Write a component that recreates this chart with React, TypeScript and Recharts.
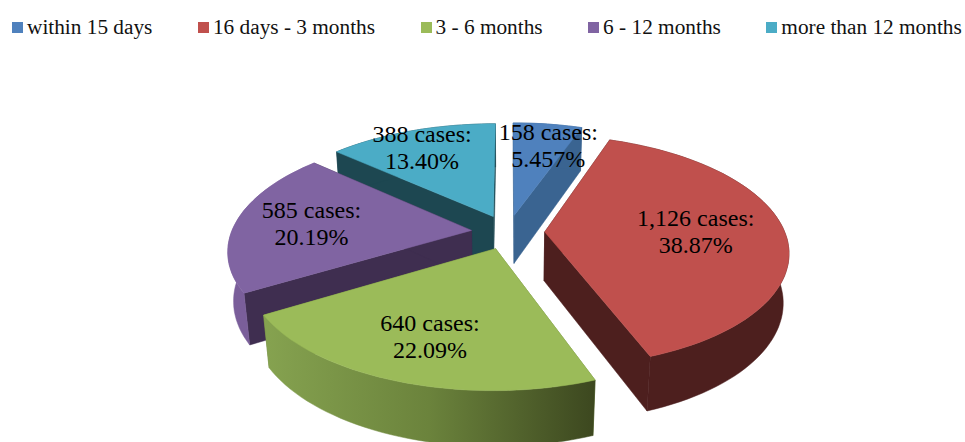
import { PieChart, Pie, Legend } from 'recharts'

const names = ['within 15 days', '16 days - 3 months', '3 - 6 months', '6 - 12 months', 'more than 12 months']
const cases = [158, 1126, 640, 585, 388]
const caseLabels = ['158 cases:', '1,126 cases:', '640 cases:', '585 cases:', '388 cases:']
const percentLabels = ['5.457%', '38.87%', '22.09%', '20.19%', '13.40%']
const colors = ['#4f81bd', '#c0504d', '#9bbb59', '#8064a2', '#4bacc6']
const cutColors = ['#3a6491', '#4d1f1e', '#6b833c', '#3f2e50', '#1d4751']
const rimColors = ['#3a6491', '#4d1f1e', 'url(#greenRim)', '#7a5e9a', '#1d4751']
const labelRadius = [0.75, 0.63, 0.7, 0.68, 0.8]
const labelTurn = [3, 0, 0, 0, -1.5]

// back slices first so the nearer ones cover their walls
const paintOrder = [0, 4, 3, 1, 2]

const rows = names.map((name, i) => ({ name, value: cases[i], fill: colors[i] }))

const TILT = (28 * Math.PI) / 180
const CAMERA = 5.4
const DEPTH = 0.235
const EXPLODE = 0.153
const RAD = Math.PI / 180

// pie plane (units of the radius) to the screen
function project(cx: number, cy: number, r: number, x: number, y: number, z: number) {
  const k = CAMERA / (CAMERA - (y * Math.cos(TILT) + z * Math.sin(TILT)))
  return [cx + r * x * k, cy + r * (y * Math.sin(TILT) - z * Math.cos(TILT)) * k]
}

function planePoint(angle: number, radius: number, mid: number) {
  return [
    EXPLODE * Math.cos(mid * RAD) + radius * Math.cos(angle * RAD),
    -EXPLODE * Math.sin(mid * RAD) - radius * Math.sin(angle * RAD),
  ]
}

const toPath = (pts: number[][]) =>
  'M' + pts.map(p => `${p[0].toFixed(1)},${p[1].toFixed(1)}`).join('L') + 'Z'

function makeShape(slice: number) {
  return function SliceShape(props: any) {
    if (props.name !== names[slice]) return <g />
    const { cx, cy, outerRadius: r, startAngle, endAngle, midAngle } = props
    const steps = Math.ceil(Math.abs(endAngle - startAngle) / 2)
    const arc: number[][] = []
    for (let i = 0; i <= steps; i++) {
      arc.push(planePoint(startAngle + ((endAngle - startAngle) * i) / steps, 1, midAngle))
    }
    const apex = planePoint(midAngle, 0, midAngle)
    const at = (p: number[], z: number) => project(cx, cy, r, p[0], p[1], z)
    const top = [at(apex, 0), ...arc.map(p => at(p, 0))]
    const rim = [...arc.map(p => at(p, 0)), ...arc.slice().reverse().map(p => at(p, -DEPTH))]
    const cut = (p: number[]) => [at(apex, 0), at(p, 0), at(p, -DEPTH), at(apex, -DEPTH)]
    return (
      <g>
        <path d={toPath(cut(arc[0]))} fill={cutColors[slice]} stroke={cutColors[slice]} strokeWidth={0.5} />
        <path d={toPath(cut(arc[steps]))} fill={cutColors[slice]} stroke={cutColors[slice]} strokeWidth={0.5} />
        <path d={toPath(rim)} fill={rimColors[slice]} stroke={rimColors[slice]} strokeWidth={0.5} />
        <path d={toPath(top)} fill={colors[slice]} stroke={colors[slice]} strokeWidth={0.5} />
      </g>
    )
  }
}

function renderLabel(props: any) {
  const { cx, cy, outerRadius: r, midAngle, index } = props
  const p = planePoint(midAngle - labelTurn[index], labelRadius[index], midAngle)
  const [x, y] = project(cx, cy, r, p[0], p[1], 0)
  return (
    <text
      key={index}
      x={x}
      textAnchor="middle"
      fontFamily="'Liberation Serif', serif"
      fontSize={24}
      fill="#000"
    >
      <tspan x={x} y={y - 5}>{caseLabels[index]}</tspan>
      <tspan x={x} y={y + 22}>{percentLabels[index]}</tspan>
    </text>
  )
}

function renderLegend() {
  return (
    <div style={{ display: 'flex', gap: 45.5, fontFamily: "'Liberation Serif', serif", fontSize: 21.3, color: '#111', whiteSpace: 'nowrap', lineHeight: '24px' }}>
      {names.map((name, i) => (
        <div key={name} style={{ display: 'flex', alignItems: 'center', gap: 4 }}>
          <span style={{ width: 11, height: 11, background: colors[i], display: 'block' }} />
          <span>{name}</span>
        </div>
      ))}
    </div>
  )
}

export default function App() {
  return (
    <div style={{ position: 'absolute', left: 0, top: 0, width: 965, height: 442, background: '#fff' }}>
      <PieChart width={965} height={442} margin={{ top: 0, right: 0, bottom: 0, left: 0 }}>
        <defs>
          <linearGradient id="greenRim" gradientUnits="userSpaceOnUse" x1={262} y1={0} x2={596} y2={0}>
            <stop offset="0%" stopColor="#86a350" />
            <stop offset="50%" stopColor="#6b833c" />
            <stop offset="100%" stopColor="#3c471f" />
          </linearGradient>
        </defs>
        <Legend
          content={renderLegend}
          wrapperStyle={{ position: 'absolute', left: 12, top: 15, width: 950 }}
        />
        {paintOrder.map((slice, i) => (
          <Pie
            key={slice}
            data={rows}
            dataKey="value"
            nameKey="name"
            cx={508}
            cy={232}
            outerRadius={240}
            startAngle={90}
            endAngle={-270}
            stroke="none"
            isAnimationActive={false}
            legendType="none"
            shape={makeShape(slice)}
            labelLine={false}
            label={i === paintOrder.length - 1 ? renderLabel : false}
          />
        ))}
      </PieChart>
    </div>
  )
}
